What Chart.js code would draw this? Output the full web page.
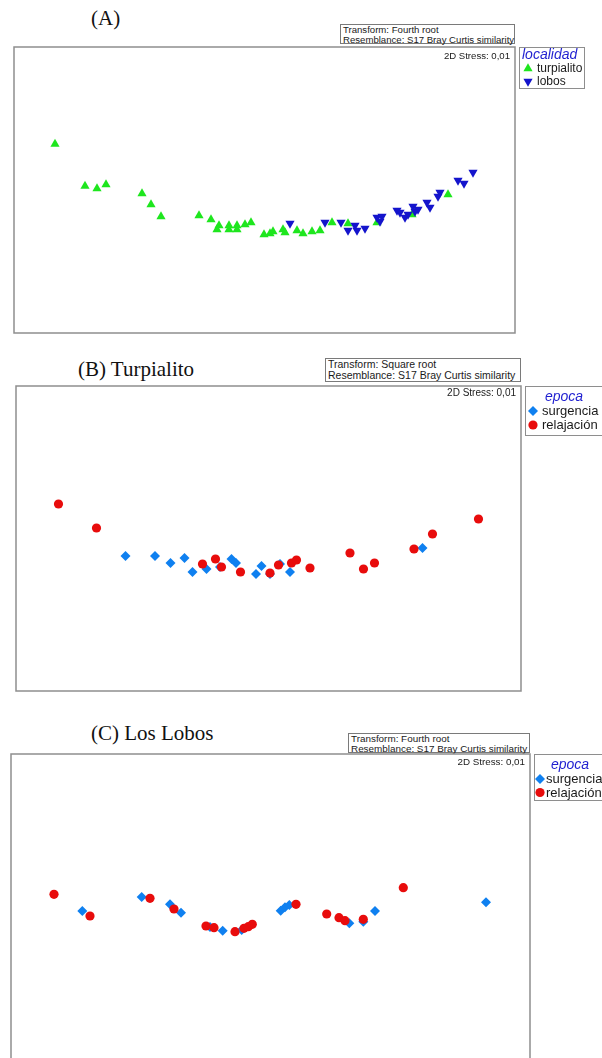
<!DOCTYPE html>
<html>
<head>
<meta charset="utf-8">
<script src="https://cdn.jsdelivr.net/npm/chart.js@4.4.1/dist/chart.umd.min.js"></script>
<style>
  html, body { margin: 0; padding: 0; background: #fff; }
  #page { position: relative; width: 602px; height: 1058px; overflow: hidden; background: #fff; }
  #page canvas { position: absolute; left: 0; }
  .ptitle { position: absolute; font-family: "Liberation Serif", "Times New Roman", serif; font-size: 21px; line-height: 21px; color: #111; white-space: nowrap; }
  .info { position: absolute; box-sizing: border-box; border: 1px solid #7a7a7a; background: #fff;
          font-family: "Liberation Sans", Arial, sans-serif; color: #1a1a1a; white-space: nowrap; padding-left: 2px; }
</style>
</head>
<body>
<div id="page">
  <div class="ptitle" style="left:91px;top:8px;">(A)</div>
  <div class="info" style="left:340px;top:24px;width:175px;height:20px;font-size:9.6px;line-height:9.5px;padding-top:0px;">Transform: Fourth root<br>Resemblance: S17 Bray Curtis similarity</div>
  <canvas id="chartA" width="602" height="340" style="top:0px;"></canvas>

  <div class="ptitle" style="left:78px;top:359px;">(B) Turpialito</div>
  <div class="info" style="left:325px;top:358px;width:196px;height:24px;font-size:10.5px;line-height:11px;padding-top:0px;">Transform: Square root<br>Resemblance: S17 Bray Curtis similarity</div>
  <canvas id="chartB" width="602" height="360" style="top:340px;"></canvas>

  <div class="ptitle" style="left:91px;top:723px;">(C) Los Lobos</div>
  <div class="info" style="left:348px;top:733px;width:182px;height:20px;font-size:9.9px;line-height:9.5px;padding-top:0px;">Transform: Fourth root<br>Resemblance: S17 Bray Curtis similarity</div>
  <canvas id="chartC" width="602" height="370" style="top:700px;"></canvas>
</div>

<script>
// nMDS scores [dim 1, dim 2] for each sample

// (A) both localities
const turpialitoMDS = [
  [-2.08, 0.455], [-1.78, 0.035], [-1.66, 0.01], [-1.57, 0.05], [-1.21, -0.04],
  [-1.12, -0.15], [-1.02, -0.27], [-0.64, -0.26], [-0.52, -0.30], [-0.44, -0.36],
  [-0.46, -0.40], [-0.34, -0.36], [-0.34, -0.40], [-0.26, -0.36], [-0.26, -0.40],
  [-0.18, -0.35], [-0.12, -0.33], [0.01, -0.45], [0.07, -0.44], [0.10, -0.42],
  [0.20, -0.40], [0.22, -0.43], [0.34, -0.41], [0.40, -0.44], [0.49, -0.42],
  [0.57, -0.41], [0.69, -0.33], [0.85, -0.34], [1.14, -0.33], [1.49, -0.25],
  [1.85, -0.05]
];
const lobosMDS = [
  [0.27, -0.34], [0.62, -0.33], [0.78, -0.33], [0.85, -0.41], [0.92, -0.36],
  [0.94, -0.41], [1.02, -0.39], [1.14, -0.28], [1.19, -0.27], [1.17, -0.32],
  [1.34, -0.21], [1.37, -0.23], [1.42, -0.28], [1.45, -0.25], [1.50, -0.17],
  [1.52, -0.22], [1.55, -0.20], [1.64, -0.13], [1.67, -0.18], [1.75, -0.07],
  [1.77, -0.03], [1.95, 0.09], [2.01, 0.06], [2.10, 0.17]
];

// (B) Turpialito by season
const turpSurgencia = [
  [-1.43, -0.18], [-1.135, -0.18], [-0.98, -0.25], [-0.84, -0.20], [-0.76, -0.34],
  [-0.62, -0.31], [-0.485, -0.29], [-0.37, -0.21], [-0.325, -0.25], [-0.125, -0.36],
  [-0.07, -0.28], [0.015, -0.36], [0.115, -0.26], [0.215, -0.34], [1.54, -0.10]
];
const turpRelajacion = [
  [-2.10, 0.34], [-1.72, 0.10], [-0.66, -0.26], [-0.53, -0.21], [-0.47, -0.29],
  [-0.28, -0.34], [0.015, -0.35], [0.10, -0.27], [0.23, -0.25], [0.28, -0.22],
  [0.415, -0.30], [0.815, -0.15], [0.95, -0.31], [1.06, -0.25], [1.455, -0.11],
  [1.64, 0.04], [2.10, 0.19]
];

// (C) Los Lobos by season
const lobosSurgencia = [
  [-1.882, -0.03], [-1.288, 0.11], [-1.005, 0.037], [-0.895, -0.047], [-0.605, -0.19],
  [-0.478, -0.227], [-0.288, -0.22], [0.102, -0.027], [0.145, 0.007], [0.188, 0.03],
  [0.788, -0.153], [0.928, -0.137], [1.045, -0.03], [2.155, 0.057]
];
const lobosRelajacion = [
  [-2.165, 0.137], [-1.805, -0.08], [-1.205, 0.097], [-0.965, -0.01], [-0.645, -0.18],
  [-0.565, -0.197], [-0.355, -0.237], [-0.265, -0.203], [-0.222, -0.187], [-0.182, -0.163],
  [0.255, 0.037], [0.562, -0.06], [0.685, -0.097], [0.745, -0.127], [0.928, -0.113],
  [1.328, 0.203]
];

const stressLabel = '2D Stress: 0,01';
const localidadTitle = 'localidad';
const epocaTitle = 'epoca';

const GREEN = '#1ee61e', DARKBLUE = '#1414cc', AZURE = '#0f80f0', RED = '#e80c0c';

const toPoints = arr => arr.map(([x, y]) => ({ x, y }));

function drawMarker(ctx, style, x, y, r, rotDeg, color) {
  ctx.beginPath();
  ctx.fillStyle = color;
  if (style === 'circle') {
    ctx.arc(x, y, r, 0, Math.PI * 2);
  } else if (style === 'triangle') {
    let a = rotDeg * Math.PI / 180;
    for (let k = 0; k < 3; k++) {
      const px = x + Math.sin(a) * r, py = y - Math.cos(a) * r;
      if (k === 0) ctx.moveTo(px, py); else ctx.lineTo(px, py);
      a += 2 * Math.PI / 3;
    }
    ctx.closePath();
  } else if (style === 'rectRot') {
    ctx.moveTo(x - r, y); ctx.lineTo(x, y - r); ctx.lineTo(x + r, y); ctx.lineTo(x, y + r);
    ctx.closePath();
  }
  ctx.fill();
}

// plot frame, stress note and boxed legend (legend coordinates are canvas-local)
const mdsDecor = {
  id: 'mdsDecor',
  afterDatasetsDraw(chart, args, o) {
    const { ctx, chartArea: a } = chart;
    ctx.save();
    ctx.strokeStyle = '#8e8e8e';
    ctx.lineWidth = 1.5;
    ctx.strokeRect(a.left, a.top, a.right - a.left, a.bottom - a.top);

    ctx.fillStyle = '#1a1a1a';
    ctx.font = o.stressFont;
    ctx.textAlign = 'right';
    ctx.textBaseline = 'middle';
    ctx.fillText(stressLabel, a.right - 5, a.top + o.stressDy);

    const L = o.legend;
    ctx.strokeStyle = '#8e8e8e';
    ctx.lineWidth = 1;
    ctx.strokeRect(L.x + 0.5, L.y + 0.5, L.w, L.h);
    ctx.textAlign = 'left';
    ctx.fillStyle = '#1f1fd0';
    ctx.font = 'italic ' + L.titleSize + 'px "Liberation Sans", Arial, sans-serif';
    ctx.fillText(L.title, L.titleX, L.titleY);
    chart.data.datasets.forEach((ds, i) => {
      const y = L.itemY + i * L.step;
      drawMarker(ctx, ds.pointStyle, L.markerX, y, ds.pointRadius, ds.pointRotation || 0, ds.backgroundColor);
      ctx.fillStyle = '#1a1a1a';
      ctx.font = L.itemSize + 'px "Liberation Sans", Arial, sans-serif';
      ctx.fillText(ds.label, L.labelX, y + 0.5);
    });
    ctx.restore();
  }
};

function makePanel(id, datasets, pad, xr, yr, decor) {
  new Chart(document.getElementById(id), {
    type: 'scatter',
    data: { datasets },
    options: {
      responsive: false,
      animation: false,
      events: [],
      layout: { padding: pad },
      scales: {
        x: { type: 'linear', display: false, min: xr[0], max: xr[1] },
        y: { type: 'linear', display: false, min: yr[0], max: yr[1] }
      },
      plugins: { legend: { display: false }, tooltip: { enabled: false }, mdsDecor: decor }
    },
    plugins: [mdsDecor]
  });
}

const triangle = (label, data, color, rot, order) => ({
  label, data: toPoints(data), pointStyle: 'triangle', pointRadius: 5.3, pointRotation: rot,
  backgroundColor: color, borderColor: color, borderWidth: 0, order, clip: false
});
const diamond = (label, data, order) => ({
  label, data: toPoints(data), pointStyle: 'rectRot', pointRadius: 5,
  backgroundColor: AZURE, borderColor: AZURE, borderWidth: 0, order, clip: false
});
const dot = (label, data, order) => ({
  label, data: toPoints(data), pointStyle: 'circle', pointRadius: 4.6,
  backgroundColor: RED, borderColor: RED, borderWidth: 0, order, clip: false
});

// (A)
makePanel('chartA',
  [triangle('turpialito', turpialitoMDS, GREEN, 0, 2), triangle('lobos', lobosMDS, DARKBLUE, 180, 1)],
  { left: 14, top: 47, right: 87, bottom: 7 },
  [-2.49, 2.52], [-1.435, 1.425],
  { stressFont: '9.6px "Liberation Sans", Arial, sans-serif', stressDy: 9,
    legend: { x: 519, y: 47, w: 65, h: 41, title: localidadTitle, titleSize: 14, titleX: 522, titleY: 55,
              itemSize: 12, markerX: 528, labelX: 537, itemY: 68.5, step: 13 } });

// (B) Turpialito — canvas starts at page y 340
makePanel('chartB',
  [diamond('surgencia', turpSurgencia, 2), dot('relajación', turpRelajacion, 1)],
  { left: 16, top: 46, right: 81, bottom: 9 },
  [-2.525, 2.525], [-1.53, 1.52],
  { stressFont: '10px "Liberation Sans", Arial, sans-serif', stressDy: 7.5,
    legend: { x: 525, y: 46, w: 90, h: 49, title: epocaTitle, titleSize: 14, titleX: 545, titleY: 57,
              itemSize: 13, markerX: 533, labelX: 542, itemY: 71, step: 14 } });

// (C) Los Lobos — canvas starts at page y 700
makePanel('chartC',
  [diamond('surgencia', lobosSurgencia, 2), dot('relajación', lobosRelajacion, 1)],
  { left: 11, top: 54, right: 72, bottom: 6 },
  [-2.595, 2.595], [-1.56, 1.54],
  { stressFont: '9.8px "Liberation Sans", Arial, sans-serif', stressDy: 8.5,
    legend: { x: 534, y: 54, w: 90, h: 46, title: epocaTitle, titleSize: 14, titleX: 551, titleY: 65,
              itemSize: 13, markerX: 540, labelX: 546, itemY: 79, step: 13.5 } });
</script>
</body>
</html>
